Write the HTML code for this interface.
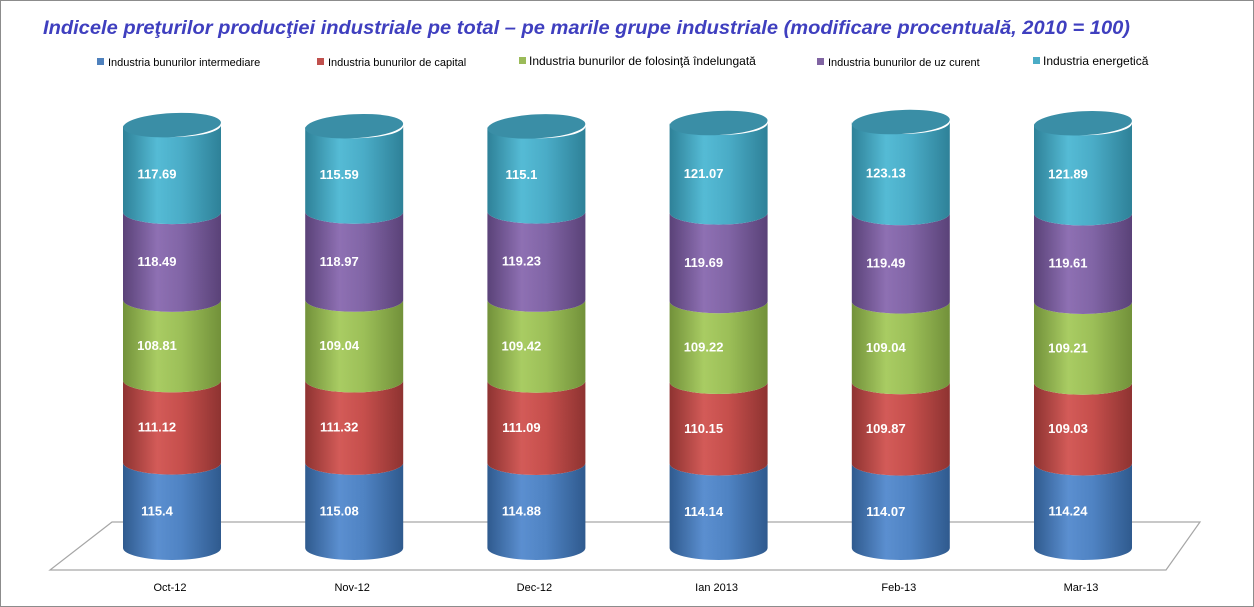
<!DOCTYPE html>
<html><head><meta charset="utf-8"><style>
html,body{margin:0;padding:0;background:#fff}
svg{display:block;font-family:"Liberation Sans",Arial,sans-serif}
</style></head><body>
<svg id="s" width="1254" height="607" viewBox="0 0 1254 607" xmlns="http://www.w3.org/2000/svg">
<defs>
<linearGradient id="gb" x1="0" x2="1"><stop offset="0" stop-color="#2f5a8e"/><stop offset="0.35" stop-color="#5b8fd0"/><stop offset="0.6" stop-color="#4f83c3"/><stop offset="1" stop-color="#2f5a8e"/></linearGradient>
<linearGradient id="gr" x1="0" x2="1"><stop offset="0" stop-color="#8e3331"/><stop offset="0.35" stop-color="#d35b58"/><stop offset="0.6" stop-color="#c64f4c"/><stop offset="1" stop-color="#8e3331"/></linearGradient>
<linearGradient id="gg" x1="0" x2="1"><stop offset="0" stop-color="#72913a"/><stop offset="0.35" stop-color="#a9cc63"/><stop offset="0.6" stop-color="#9cbf58"/><stop offset="1" stop-color="#72913a"/></linearGradient>
<linearGradient id="gp" x1="0" x2="1"><stop offset="0" stop-color="#5a4278"/><stop offset="0.35" stop-color="#8e70b3"/><stop offset="0.6" stop-color="#8165a6"/><stop offset="1" stop-color="#5a4278"/></linearGradient>
<linearGradient id="gt" x1="0" x2="1"><stop offset="0" stop-color="#2e8198"/><stop offset="0.35" stop-color="#55bbd5"/><stop offset="0.6" stop-color="#4aacc7"/><stop offset="1" stop-color="#2e8198"/></linearGradient>
</defs>
<rect x="0.5" y="0.5" width="1253" height="606" fill="#fff" stroke="#8c8c8c"/>
<text x="43" y="34" font-size="19" font-weight="bold" font-style="italic" fill="#3f3fbf" textLength="1087" lengthAdjust="spacingAndGlyphs">Indicele preţurilor producţiei industriale pe total – pe marile grupe industriale (modificare procentuală, 2010 = 100)</text>
<g font-size="11" fill="#000">
<rect x="97" y="58" width="7" height="7" fill="#4f81bd"/><text x="108" y="66">Industria bunurilor intermediare</text>
<rect x="317" y="58" width="7" height="7" fill="#c0504d"/><text x="328" y="66">Industria bunurilor de capital</text>
<rect x="519" y="57" width="7" height="7" fill="#9bbb59"/><text x="529" y="65" font-size="12">Industria bunurilor de folosinţă îndelungată</text>
<rect x="817" y="58" width="7" height="7" fill="#8064a2"/><text x="828" y="66">Industria bunurilor de uz curent</text>
<rect x="1033" y="57" width="7" height="7" fill="#4bacc6"/><text x="1043" y="65" font-size="12">Industria energetică</text>
</g>
<polygon points="50,570 1166,570 1200,522 112,522" fill="#fff" stroke="#a6a6a6" stroke-width="1.2"/>
<g id="bars"></g>
</svg>
<script>
var data=[["Oct-12",[115.4,111.12,108.81,118.49,117.69]],["Nov-12",[115.08,111.32,109.04,118.97,115.59]],["Dec-12",[114.88,111.09,109.42,119.23,115.1]],["Ian 2013",[114.14,110.15,109.22,119.69,121.07]],["Feb-13",[114.07,109.87,109.04,119.49,123.13]],["Mar-13",[114.24,109.03,109.21,119.61,121.89]]];
var g=["gb","gr","gg","gp","gt"],h="",rx=49,ry=12,bot=548,sc=0.74;
data.forEach(function(d,i){var cx=172+i*182.2,y=bot,parts=[];
 d[1].forEach(function(v,k){var top=y-v*sc;parts.push([top,y,v,k]);y=top;});
 parts.forEach(function(p){var t=p[0],b=p[1];
  h+='<path d="M'+(cx-rx)+','+t+' A'+rx+','+ry+' 0 0 0 '+(cx+rx)+','+t+' L'+(cx+rx)+','+b+' A'+rx+','+ry+' 0 0 1 '+(cx-rx)+','+b+' Z" fill="url(#'+g[p[3]]+')"/>';
  h+='<text x="'+(cx-15)+'" y="'+((t+b)/2+10)+'" text-anchor="middle" font-size="13" font-weight="bold" fill="#fff">'+p[2]+'</text>';});
 h+='<ellipse cx="'+cx+'" cy="'+y+'" rx="'+rx+'" ry="'+ry+'" fill="#3a8ea6" transform="rotate(-3 '+cx+' '+y+')"/>';
 h+='<text x="'+(cx-2)+'" y="591" text-anchor="middle" font-size="11">'+d[0]+'</text>';});
document.getElementById("bars").innerHTML=h;
</script>
</body></html>
